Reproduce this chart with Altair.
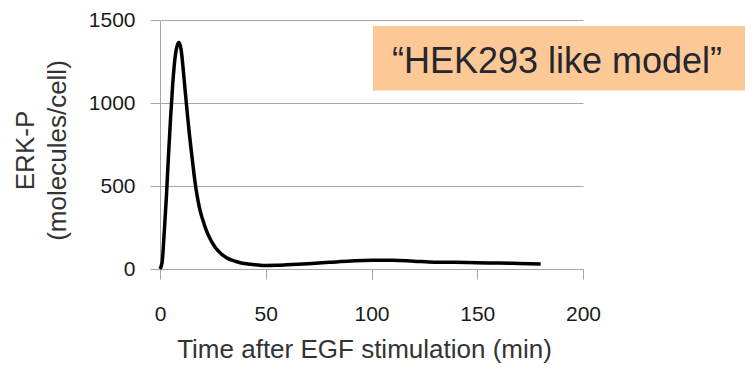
import altair as alt
import pandas as pd

# Time after EGF stimulation (min)
time_min = [0, 1, 2, 3, 4, 5, 6, 7, 8, 9, 10, 11, 12, 13, 14, 15, 16, 17, 18, 19, 20,
            21, 22, 23, 24, 25, 26, 27, 28, 30, 32, 34, 36, 38, 40, 45, 50, 55, 60,
            70, 80, 90, 100, 110, 120, 130, 140, 150, 160, 170, 180]
# ERK-P (molecules/cell)
erk_p = [0, 40, 220, 430, 680, 910, 1110, 1260, 1340, 1365, 1320, 1200, 1060, 925, 800,
         690, 580, 485, 410, 350, 305, 265, 230, 200, 175, 152, 133, 117, 103, 80, 64,
         53, 45, 38, 33, 26, 21, 22, 25, 32, 40, 48, 53, 53, 47, 41, 40, 37, 36, 33, 30]

x_ticks = [0, 50, 100, 150, 200]
y_ticks = [0, 500, 1000, 1500]
annotation = ["\u201cHEK293 like model\u201d"]

df = pd.DataFrame({"t": time_min, "erk": erk_p})

FONT = "Liberation Sans"
GRID = "#A6A6A6"

line = alt.Chart(df).mark_line(color="black", strokeWidth=3.5, interpolate="monotone").encode(
    x=alt.X("t:Q",
            scale=alt.Scale(domain=[0, 200], nice=False),
            axis=alt.Axis(values=x_ticks, format="d", title="Time after EGF stimulation (min)",
                          grid=False, domainColor=GRID, tickColor=GRID, tickSize=10,
                          labelFontSize=21, labelFont=FONT, labelColor="#1a1a1a",
                          labelPadding=24, labelFlush=False,
                          titleFont=FONT, titleFontSize=26, titleFontWeight="normal",
                          titleColor="#333333", titleX=204, titleY=88,
                          titleBaseline="alphabetic", titleAlign="center")),
    y=alt.Y("erk:Q",
            scale=alt.Scale(domain=[0, 1500], nice=False),
            axis=alt.Axis(values=y_ticks, format="d", title=["ERK-P", "(molecules/cell)"],
                          grid=True, gridColor=GRID, gridWidth=1,
                          domainColor=GRID, tickColor=GRID, tickSize=10,
                          labelFontSize=21, labelFont=FONT, labelColor="#1a1a1a",
                          labelPadding=15, labelFlush=False,
                          titleFont=FONT, titleFontSize=26, titleFontWeight="normal",
                          titleColor="#333333", titleAngle=270, titleX=-122, titleY=130,
                          titleBaseline="bottom", titleAlign="center", titleLineHeight=32)),
)

ann_df = pd.DataFrame({"label": annotation})
box = alt.Chart(ann_df).mark_rect(color="#FCC996").encode(
    x=alt.value(213), x2=alt.value(585), y=alt.value(6), y2=alt.value(70.5)
)
text = alt.Chart(ann_df).mark_text(font=FONT, fontSize=36, color="#262630",
                                   align="center", baseline="alphabetic").encode(
    x=alt.value(397), y=alt.value(52.5), text="label:N"
)

chart = alt.layer(line, box, text).properties(
    width=423, height=249,
    autosize=alt.AutoSizeParams(type="none"),
    padding={"left": 152, "top": 12, "right": 162, "bottom": 94},
).configure_view(stroke=None)

chart.save("out.html", embed_options={"renderer": "svg", "actions": False})
